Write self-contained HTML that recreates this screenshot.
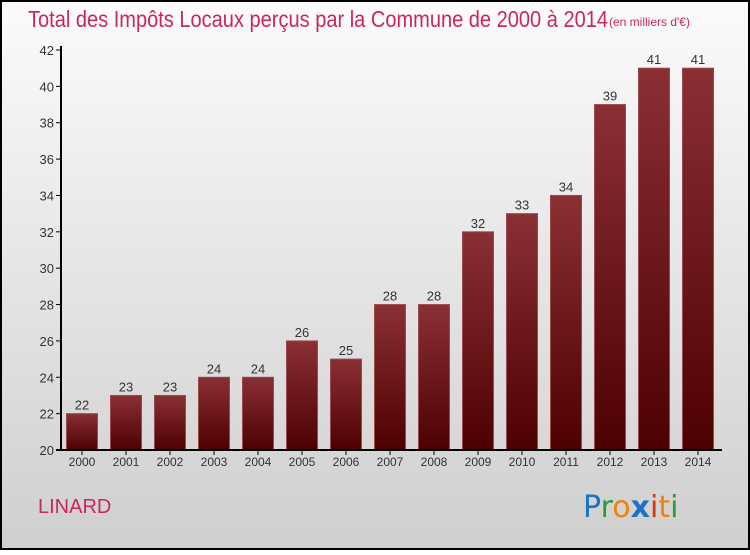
<!DOCTYPE html>
<html><head><meta charset="utf-8"><style>
html,body{margin:0;padding:0}
body{width:750px;height:550px;overflow:hidden;font-family:"Liberation Sans",sans-serif}
</style></head><body>
<svg width="750" height="550" xmlns="http://www.w3.org/2000/svg">
<defs>
<linearGradient id="bg" x1="0" y1="0" x2="0" y2="1"><stop offset="0" stop-color="#fbfbfb"/><stop offset="1" stop-color="#cfcfcf"/></linearGradient>
<linearGradient id="bar" x1="0" y1="0" x2="0" y2="1"><stop offset="0" stop-color="#8a3034"/><stop offset="1" stop-color="#4e0000"/></linearGradient>
</defs>
<rect x="1" y="1" width="748" height="548" fill="url(#bg)" stroke="#000" stroke-width="2"/>
<text x="28" y="27" font-size="23" fill="#c8285a" textLength="580" lengthAdjust="spacingAndGlyphs">Total des Impôts Locaux perçus par la Commune de 2000 à 2014</text>
<text x="609" y="26" font-size="12" fill="#c8285a">(en milliers d'€)</text>
<g id="plot"></g>
<text x="38" y="513" font-size="20" fill="#c8285a">LINARD</text>
<g font-size="30" font-family="'DejaVu Sans',sans-serif">
<text x="583" y="517"><tspan fill="#1a73c8">P</tspan><tspan fill="#2a9a3a">r</tspan><tspan fill="#f08010">o</tspan><tspan fill="#1a73c8" font-weight="bold">x</tspan><tspan fill="#e03010">i</tspan><tspan fill="#f08010">t</tspan><tspan fill="#2a9a3a">i</tspan></text>
</g>
</svg>
<script>
const categories=["2000","2001","2002","2003","2004","2005","2006","2007","2008","2009","2010","2011","2012","2013","2014"];
const values=[22,23,23,24,24,26,25,28,28,32,33,34,39,41,41];
const yTicks=[20,22,24,26,28,30,32,34,36,38,40,42];
const NS="http://www.w3.org/2000/svg";
const g=document.getElementById('plot');
const y=v=>450-(v-20)*400/22;
const x=i=>82+i*44;
function mk(t,a){const e=document.createElementNS(NS,t);for(const k in a)e.setAttribute(k,a[k]);g.appendChild(e);return e;}
yTicks.forEach(t=>{
 const l=mk('line',{x1:56,x2:61,y1:y(t),y2:y(t),stroke:'#000'});
 
 
 const tx=mk('text',{x:54,y:y(t)+5,'text-anchor':'end','font-size':13,fill:'#333'});
 tx.textContent=t;
 
 
});
values.forEach((v,i)=>{
 const r=mk('rect',{x:x(i)-15.5,y:y(v),width:31,height:450-y(v),fill:'url(#bar)',stroke:'#9a4a4e','stroke-width':1});
 
 
 const vl=mk('text',{x:x(i),y:y(v)-4,'text-anchor':'middle','font-size':13,fill:'#333'});
 vl.textContent=v;
 
 
 const tk=mk('line',{x1:x(i),x2:x(i),y1:450,y2:455,stroke:'#000'});
 
 
 const cl=mk('text',{x:x(i),y:466,'text-anchor':'middle','font-size':12,fill:'#333'});
 cl.textContent=categories[i];
 
 
});
const ya=mk('line',{x1:61,x2:61,y1:46,y2:451,stroke:'#000','stroke-width':2});


const xa=mk('line',{x1:56,x2:722,y1:450,y2:450,stroke:'#000','stroke-width':2});


</script>
</body></html>
